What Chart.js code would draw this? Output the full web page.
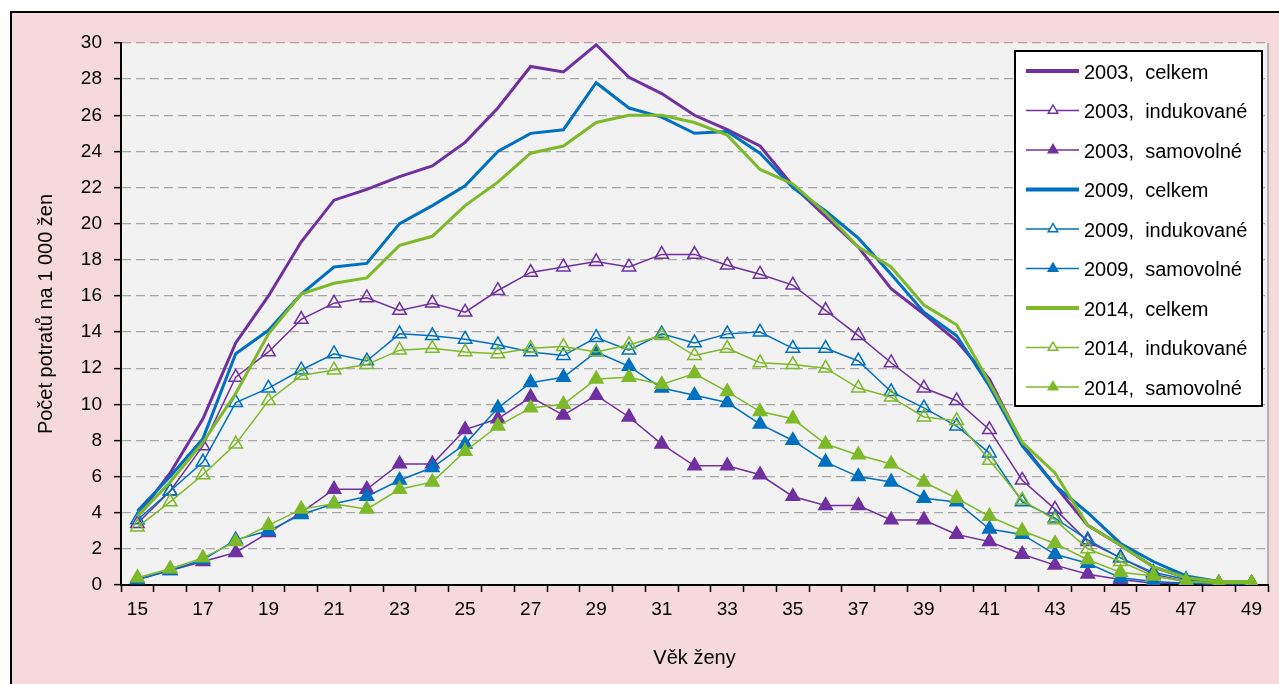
<!DOCTYPE html>
<html>
<head>
<meta charset="utf-8">
<script src="https://cdn.jsdelivr.net/npm/chart.js@4"></script>
<style>
  body { margin: 0; background: #ffffff; overflow: hidden; }
  #frame { position: absolute; left: 10px; top: 11px; width: 1300px; height: 700px;
           background: #f5d9dc; border: 2px solid #000; }
  #wrap { position: absolute; left: 0; top: 0; width: 1279px; height: 684px; }
</style>
</head>
<body>
<div id="frame"></div>
<div id="wrap"><canvas id="my-chart"></canvas></div>
<script>
// age of women, 15..49
let vek = ['15','16','17','18','19','20','21','22','23','24','25','26','27','28','29','30','31','32',
           '33','34','35','36','37','38','39','40','41','42','43','44','45','46','47','48','49'];

let celkem2003 = [3.8,6.2,9.2,13.4,16.0,19.0,21.3,21.9,22.6,23.2,24.5,26.4,28.7,28.4,29.9,28.1,27.2,26.0,25.2,24.3,22.1,20.4,18.7,16.4,15.0,13.5,11.4,7.8,5.5,3.3,2.2,1.0,0.4,0.2,0.1];
let indukovane2003 = [3.4,5.2,7.7,11.5,12.9,14.7,15.6,15.9,15.2,15.6,15.1,16.3,17.3,17.6,17.9,17.6,18.3,18.3,17.7,17.2,16.6,15.2,13.8,12.3,10.9,10.2,8.6,5.8,4.2,2.4,1.5,0.6,0.2,0.1,0.1];
let samovolne2003 = [0.3,0.8,1.3,1.8,2.9,4.0,5.3,5.3,6.7,6.7,8.6,9.2,10.4,9.4,10.5,9.3,7.8,6.6,6.6,6.1,4.9,4.4,4.4,3.6,3.6,2.8,2.4,1.7,1.1,0.6,0.3,0.1,0.1,0.05,0.05];

let celkem2009 = [4.1,6.0,8.1,12.8,14.1,16.1,17.6,17.8,20.0,21.0,22.1,24.0,25.0,25.2,27.8,26.4,25.9,25.0,25.1,23.9,22.0,20.7,19.2,17.2,15.1,13.8,11.0,7.7,5.5,4.0,2.3,1.3,0.5,0.2,0.1];
let indukovane2009 = [3.6,5.2,6.8,10.1,10.9,11.9,12.8,12.4,13.9,13.8,13.6,13.3,12.9,12.7,13.7,13.0,13.9,13.4,13.9,14.0,13.1,13.1,12.4,10.7,9.8,8.8,7.3,4.6,3.7,2.5,1.5,0.7,0.3,0.1,0.1];
let samovolne2009 = [0.3,0.8,1.4,2.5,3.0,3.9,4.5,4.9,5.8,6.5,7.8,9.8,11.2,11.5,12.9,12.1,10.9,10.5,10.1,8.9,8.0,6.8,6.0,5.7,4.8,4.6,3.1,2.8,1.7,1.2,0.4,0.2,0.1,0.05,0.05];

let celkem2014 = [3.8,5.7,7.9,10.6,13.9,16.1,16.7,17.0,18.8,19.3,21.0,22.3,23.9,24.3,25.6,26.0,26.0,25.6,24.9,23.0,22.2,20.6,18.7,17.6,15.5,14.4,11.2,7.9,6.2,3.3,2.2,1.0,0.4,0.2,0.2];
let indukovane2014 = [3.2,4.6,6.1,7.8,10.2,11.6,11.9,12.2,13.0,13.1,12.9,12.8,13.1,13.2,12.9,13.3,13.8,12.7,13.1,12.3,12.2,12.0,10.9,10.4,9.3,9.1,6.9,4.7,3.6,2.0,1.3,0.5,0.2,0.1,0.1];
let samovolne2014 = [0.4,0.9,1.5,2.4,3.3,4.2,4.5,4.2,5.3,5.7,7.4,8.8,9.8,10.0,11.4,11.5,11.1,11.7,10.7,9.6,9.2,7.8,7.2,6.7,5.7,4.8,3.8,3.0,2.3,1.4,0.7,0.5,0.2,0.1,0.1];

let fontName = '"Liberation Sans", Arial, sans-serif';
let purple = '#7030a0';
let blue = '#0070c0';
let green = '#7db928';

// one series: kind = 'celkem' | 'ind' | 'sam'
function series(label, data, color, kind, idx) {
    return {
        label: label,
        data: data,
        borderColor: color,
        backgroundColor: color,
        borderWidth: kind === 'celkem' ? 3 : 1.5,
        pointStyle: 'triangle',
        pointRadius: kind === 'celkem' ? 0 : 7.8,
        pointBorderWidth: 1.5,
        pointBorderColor: color,
        pointBackgroundColor: kind === 'ind' ? 'rgba(0,0,0,0)' : color,
        tension: 0,
        order: 20 - idx,   // later series drawn on top, like the original
        kind: kind
    };
}

let datasets = [
    series('2003,  celkem', celkem2003, purple, 'celkem', 0),
    series('2003,  indukované', indukovane2003, purple, 'ind', 1),
    series('2003,  samovolné', samovolne2003, purple, 'sam', 2),
    series('2009,  celkem', celkem2009, blue, 'celkem', 3),
    series('2009,  indukované', indukovane2009, blue, 'ind', 4),
    series('2009,  samovolné', samovolne2009, blue, 'sam', 5),
    series('2014,  celkem', celkem2014, green, 'celkem', 6),
    series('2014,  indukované', indukovane2014, green, 'ind', 7),
    series('2014,  samovolné', samovolne2014, green, 'sam', 8)
];

// grey plot area + right edge
let plotBackground = {
    id: 'plotBackground',
    beforeDraw(chart) {
        let a = chart.chartArea;
        let ctx = chart.ctx;
        ctx.save();
        ctx.fillStyle = '#f2f2f2';
        ctx.fillRect(a.left, a.top, a.right - a.left, a.bottom - a.top);
        ctx.strokeStyle = '#a0a0a0';
        ctx.lineWidth = 1.5;
        ctx.beginPath();
        ctx.moveTo(a.right, a.top);
        ctx.lineTo(a.right, a.bottom);
        ctx.stroke();
        ctx.restore();
    }
};

// legend box inside the plot, on the right
let boxLegend = {
    id: 'boxLegend',
    afterDraw(chart) {
        let a = chart.chartArea;
        let ctx = chart.ctx;
        let w = 247, h = 355;
        let x0 = a.right - 6 - w;
        let y0 = a.top + 8;
        ctx.save();
        ctx.fillStyle = '#ffffff';
        ctx.fillRect(x0, y0, w, h);
        ctx.strokeStyle = '#000000';
        ctx.lineWidth = 2;
        ctx.strokeRect(x0, y0, w, h);
        chart.data.datasets.forEach(function (ds, i) {
            let y = y0 + 20 + i * 39.5;
            ctx.strokeStyle = ds.borderColor;
            ctx.lineWidth = ds.kind === 'celkem' ? 4 : 1.5;
            ctx.beginPath();
            ctx.moveTo(x0 + 11, y);
            ctx.lineTo(x0 + 64, y);
            ctx.stroke();
            if (ds.kind !== 'celkem') {
                let r = 5.5;
                ctx.fillStyle = ds.kind === 'sam' ? ds.borderColor : '#ffffff';
                ctx.beginPath();
                ctx.moveTo(x0 + 38, y - r);
                ctx.lineTo(x0 + 38 + r * 0.866, y + r * 0.5);
                ctx.lineTo(x0 + 38 - r * 0.866, y + r * 0.5);
                ctx.closePath();
                ctx.fill();
                ctx.stroke();
            }
            ctx.fillStyle = '#000000';
            ctx.font = '20px ' + fontName;
            ctx.textBaseline = 'middle';
            ctx.textAlign = 'left';
            ctx.fillText(ds.label, x0 + 69, y + 2);
        });
        ctx.restore();
    }
};

let chartEl = document.getElementById('my-chart');
let potratyChart = new Chart(chartEl.getContext('2d'), {
    type: 'line',
    data: {
        labels: vek,
        datasets: datasets
    },
    plugins: [plotBackground, boxLegend],
    options: {
        responsive: true,
        maintainAspectRatio: false,
        animation: false,
        layout: {
            padding: { left: 30, top: 43, right: 11, bottom: 9 }
        },
        plugins: {
            legend: { display: false },
            tooltip: { enabled: false }
        },
        scales: {
            x: {
                offset: true,
                afterFit: function (scale) { scale.height = 90; },
                grid: {
                    offset: true,
                    drawOnChartArea: false,
                    drawTicks: true,
                    tickLength: 7,
                    tickColor: '#000000',
                    tickWidth: 1.5
                },
                border: { color: '#000000', width: 2 },
                ticks: {
                    autoSkip: false,
                    maxRotation: 0,
                    padding: 6,
                    color: '#000000',
                    font: { family: fontName, size: 19 },
                    callback: function (val, i) {
                        return i % 2 === 0 ? vek[i] : '';
                    }
                },
                title: {
                    display: true,
                    text: 'Věk ženy',
                    color: '#000000',
                    font: { family: fontName, size: 20 },
                    padding: { top: 4, bottom: 5 }
                }
            },
            y: {
                min: 0,
                max: 30,
                afterFit: function (scale) { scale.width = 91; },
                grid: {
                    color: '#a6a6a6',
                    lineWidth: 1.3,
                    tickLength: 7,
                    tickColor: '#000000',
                    tickWidth: 1.5,
                    tickBorderDash: []
                },
                // in v4 border.dash dashes the grid lines
                border: { color: '#000000', width: 2, dash: [9, 5] },
                ticks: {
                    stepSize: 2,
                    padding: 12,
                    color: '#000000',
                    font: { family: fontName, size: 19 }
                },
                title: {
                    display: true,
                    text: 'Počet potratů na 1 000 žen',
                    color: '#000000',
                    font: { family: fontName, size: 20 },
                    padding: { top: 4, bottom: 4 }
                }
            }
        }
    }
});
</script>
</body>
</html>
